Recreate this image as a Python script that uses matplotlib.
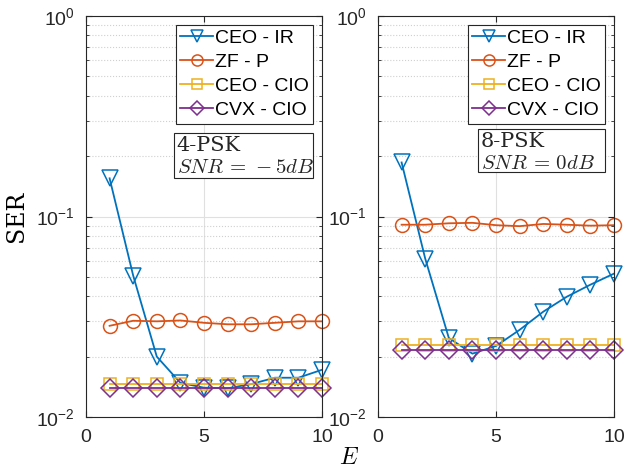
import matplotlib
matplotlib.use("Agg")
import matplotlib.pyplot as plt
import numpy as np

plt.rcParams["font.family"] = ["Liberation Sans", "DejaVu Sans"]
plt.rcParams["mathtext.fontset"] = "cm"
plt.rcParams["font.size"] = 14

E = np.arange(1, 11)

# 4-PSK, SNR = -5dB
ir_4 = [0.155, 0.0507, 0.0200, 0.0148, 0.0140, 0.0139, 0.0146, 0.0157, 0.0157, 0.0172]
zf_4 = [0.0285, 0.0302, 0.0300, 0.0303, 0.0295, 0.0290, 0.0290, 0.0295, 0.0300, 0.0300]
ceo_4 = [0.0146] * 10
cvx_4 = [0.0140] * 10

# 8-PSK, SNR = 0dB
ir_8 = [0.186, 0.0617, 0.0248, 0.0207, 0.0226, 0.0272, 0.0335, 0.0398, 0.0457, 0.0519]
zf_8 = [0.0910, 0.0910, 0.0925, 0.0930, 0.0905, 0.0895, 0.0918, 0.0910, 0.0900, 0.0905]
ceo_8 = [0.0229] * 10
cvx_8 = [0.0216] * 10

labels = ["CEO - IR", "ZF - P", "CEO - CIO", "CVX - CIO"]
colors = ["#0072BD", "#D95319", "#EDB120", "#7E2F8E"]
markers = ["v", "o", "s", "D"]
msizes = [11, 10, 8.5, 9]

panels = [
    ([ir_4, zf_4, ceo_4, cvx_4], "4-PSK\n$SNR\\,=\\,-5dB$"),
    ([ir_8, zf_8, ceo_8, cvx_8], "8-PSK\n$SNR\\,=\\,0dB$"),
]
# note box: left, bottom, right, top in axes fraction
note_box = [(0.373, 0.597, 0.962, 0.708), (0.424, 0.611, 0.96, 0.718)]

fig = plt.figure(figsize=(6.26, 4.72), dpi=100)
ax_pos = [[86 / 626, 55 / 472, 236 / 626, 401 / 472],
          [378 / 626, 55 / 472, 236 / 626, 401 / 472]]

for i, (pos, (series, note)) in enumerate(zip(ax_pos, panels)):
    ax = fig.add_axes(pos)
    for y, lab, c, m, ms in zip(series, labels, colors, markers, msizes):
        ax.semilogy(E, y, color=c, marker=m, markersize=ms, markerfacecolor="none",
                    markeredgewidth=1.1, linewidth=1.3, label=lab, clip_on=False)
    ax.set_xlim(0, 10)
    ax.set_ylim(1e-2, 1)
    ax.set_xticks([0, 5, 10])
    ax.set_yticks([1e-2, 1e-1, 1])
    ax.set_yticklabels([r"$\mathregular{10^{-2}}$", r"$\mathregular{10^{-1}}$",
                        r"$\mathregular{10^{0}}$"])
    ax.tick_params(which="both", direction="in", top=True, right=True,
                   colors="#262626", labelcolor="#262626", labelsize=14)
    ax.tick_params(which="major", length=4)
    ax.tick_params(which="minor", length=2)
    ax.tick_params(axis="x", pad=9)
    ax.tick_params(axis="y", pad=8)
    ax.grid(True, which="major", color="#e0e0e0", linewidth=0.8)
    ax.grid(True, which="minor", axis="y", color="#d0d0d0", linestyle=":", linewidth=0.8)
    ax.set_axisbelow(True)
    for s in ax.spines.values():
        s.set_color("#262626")
        s.set_linewidth(0.8)
    leg = ax.legend(loc="upper right", fancybox=False, framealpha=1, edgecolor="#262626",
                    fontsize=14, handlelength=1.65, handletextpad=0.1, labelspacing=0.32,
                    borderpad=0.25, borderaxespad=0.45, markerscale=0.8)
    leg.get_frame().set_linewidth(0.8)

    x0, y0, x1, y1 = note_box[i]
    ax.add_patch(plt.Rectangle((x0, y0), x1 - x0, y1 - y0, transform=ax.transAxes,
                               facecolor="white", edgecolor="#262626", linewidth=0.8,
                               zorder=4, clip_on=False))
    ax.text(x0 + 0.012, y1 - 0.008, note, transform=ax.transAxes, ha="left", va="top",
            fontsize=15, family="serif", linespacing=1.2, color="#262626", zorder=5)
    if i == 0:
        ax.set_ylabel("SER", family="serif", fontsize=17, labelpad=6)

fig.text(349 / 626, 1 - 458 / 472, "$E$", ha="center", va="center", fontsize=17)
fig.savefig("out.png", dpi=100)
